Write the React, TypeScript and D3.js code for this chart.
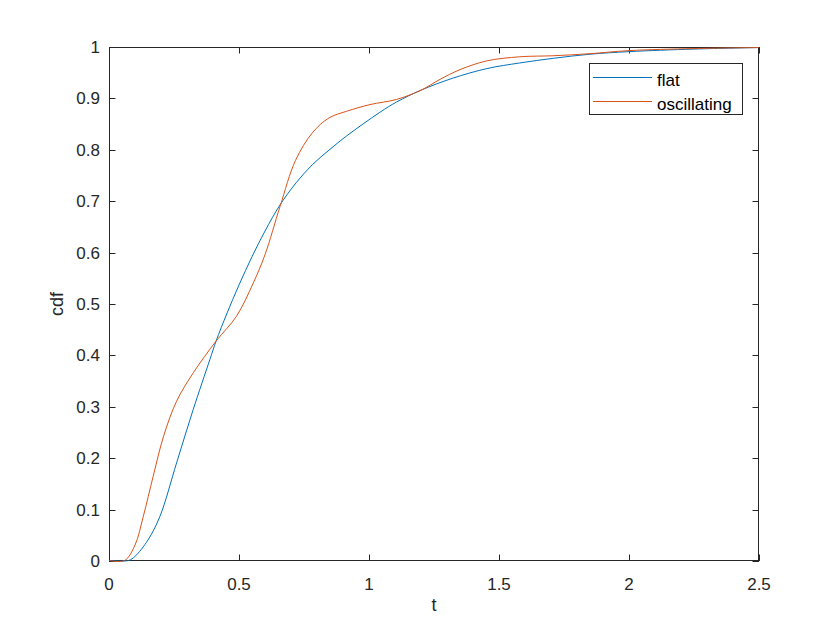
import React from "react";
import * as d3 from "d3";

const tFlat = [0, 0.075, 0.1, 0.15, 0.196, 0.26, 0.324, 0.388, 0.412, 0.453, 0.5, 0.55, 0.6, 0.658, 0.72, 0.782, 0.85, 0.914, 1.042, 1.106, 1.2, 1.32, 1.453, 1.58, 1.709, 1.85, 2.0, 2.25, 2.5];
const flatVals = [0, 0, 0.008, 0.04, 0.086, 0.19, 0.294, 0.391, 0.427, 0.48, 0.536, 0.591, 0.641, 0.692, 0.735, 0.77, 0.8, 0.826, 0.872, 0.892, 0.915, 0.938, 0.957, 0.968, 0.977, 0.985, 0.99, 0.995, 0.998];
const tOsc = [0, 0.06, 0.1, 0.132, 0.17, 0.21, 0.26, 0.324, 0.412, 0.49, 0.555, 0.6, 0.658, 0.717, 0.782, 0.846, 0.914, 1.004, 1.106, 1.2, 1.273, 1.35, 1.453, 1.58, 1.708, 1.85, 2.0, 2.25, 2.5];
const oscVals = [0, 0, 0.03, 0.086, 0.164, 0.242, 0.31, 0.365, 0.427, 0.475, 0.54, 0.595, 0.689, 0.778, 0.832, 0.861, 0.874, 0.887, 0.897, 0.915, 0.936, 0.955, 0.972, 0.98, 0.982, 0.986, 0.992, 0.996, 0.998];
const xTicks = [0, 0.5, 1, 1.5, 2, 2.5];
const yTicks = [0, 0.1, 0.2, 0.3, 0.4, 0.5, 0.6, 0.7, 0.8, 0.9, 1];
const seriesNames = ["flat", "oscillating"];
const colors = ["#0072BD", "#D95319"];

export default function App() {
  const W = 840, H = 630;
  const L = 109, R = 759, T = 47, B = 561;
  const x = d3.scaleLinear().domain([0, 2.5]).range([L, R]);
  const y = d3.scaleLinear().domain([0, 1]).range([B, T]);
  const line = d3.line<[number, number]>().x(d => x(d[0])).y(d => Math.min(B, y(d[1]))).curve(d3.curveCatmullRom.alpha(0.5));
  const series = [
    tFlat.map((t, i) => [t, flatVals[i]] as [number, number]),
    tOsc.map((t, i) => [t, oscVals[i]] as [number, number]),
  ];
  const ax = "#262626";
  const font = "Arial, 'Liberation Sans', sans-serif";
  const tl = 6.5;
  return (
    <svg width={W} height={H} style={{ position: "absolute", left: 0, top: 0, background: "#fff" }}>
      <rect x={0} y={0} width={W} height={H} fill="#fff" />
      <rect x={L} y={T} width={R - L} height={B - T} fill="#fff" />
      <g stroke={ax} strokeWidth={1} fill="none">
        <rect x={L + 0.5} y={T + 0.5} width={R - L - 1} height={B - T - 1} />
        {xTicks.map((v, i) => (
          <g key={i}>
            <line x1={Math.round(x(v)) + 0.5} x2={Math.round(x(v)) + 0.5} y1={B} y2={B - tl} />
            <line x1={Math.round(x(v)) + 0.5} x2={Math.round(x(v)) + 0.5} y1={T} y2={T + tl} />
          </g>
        ))}
        {yTicks.map((v, i) => (
          <g key={i}>
            <line x1={L} x2={L + tl} y1={Math.round(y(v)) + 0.5} y2={Math.round(y(v)) + 0.5} />
            <line x1={R} x2={R - tl} y1={Math.round(y(v)) + 0.5} y2={Math.round(y(v)) + 0.5} />
          </g>
        ))}
      </g>
      <g fill="none" strokeWidth={1}>
        {series.map((s, i) => (
          <path key={i} d={line(s) || ""} stroke={colors[i]} transform="translate(0,-0.5)" />
        ))}
      </g>
      <g fill={ax} fontFamily={font} fontSize={17}>
        {xTicks.map((v, i) => (
          <text key={i} x={x(v)} y={B + 29} textAnchor="middle">{String(v)}</text>
        ))}
        {yTicks.map((v, i) => (
          <text key={i} x={L - 9} y={y(v) + 6} textAnchor="end">{String(v)}</text>
        ))}
        <text x={(L + R) / 2} y={B + 50} textAnchor="middle" fontSize={18}>t</text>
        <text transform={`translate(${L - 46},${(T + B) / 2}) rotate(-90)`} textAnchor="middle" fontSize={18}>cdf</text>
      </g>
      <g>
        <rect x={589.5} y={63.5} width={153} height={51} fill="#fff" stroke={ax} strokeWidth={1} />
        {seriesNames.map((n, i) => (
          <g key={i}>
            <line x1={593} x2={652} y1={77.5 + i * 24} y2={77.5 + i * 24} stroke={colors[i]} strokeWidth={1} />
            <text x={657} y={86 + i * 23.5} fontFamily={font} fontSize={17} fill="#000">{n}</text>
          </g>
        ))}
      </g>
    </svg>
  );
}
